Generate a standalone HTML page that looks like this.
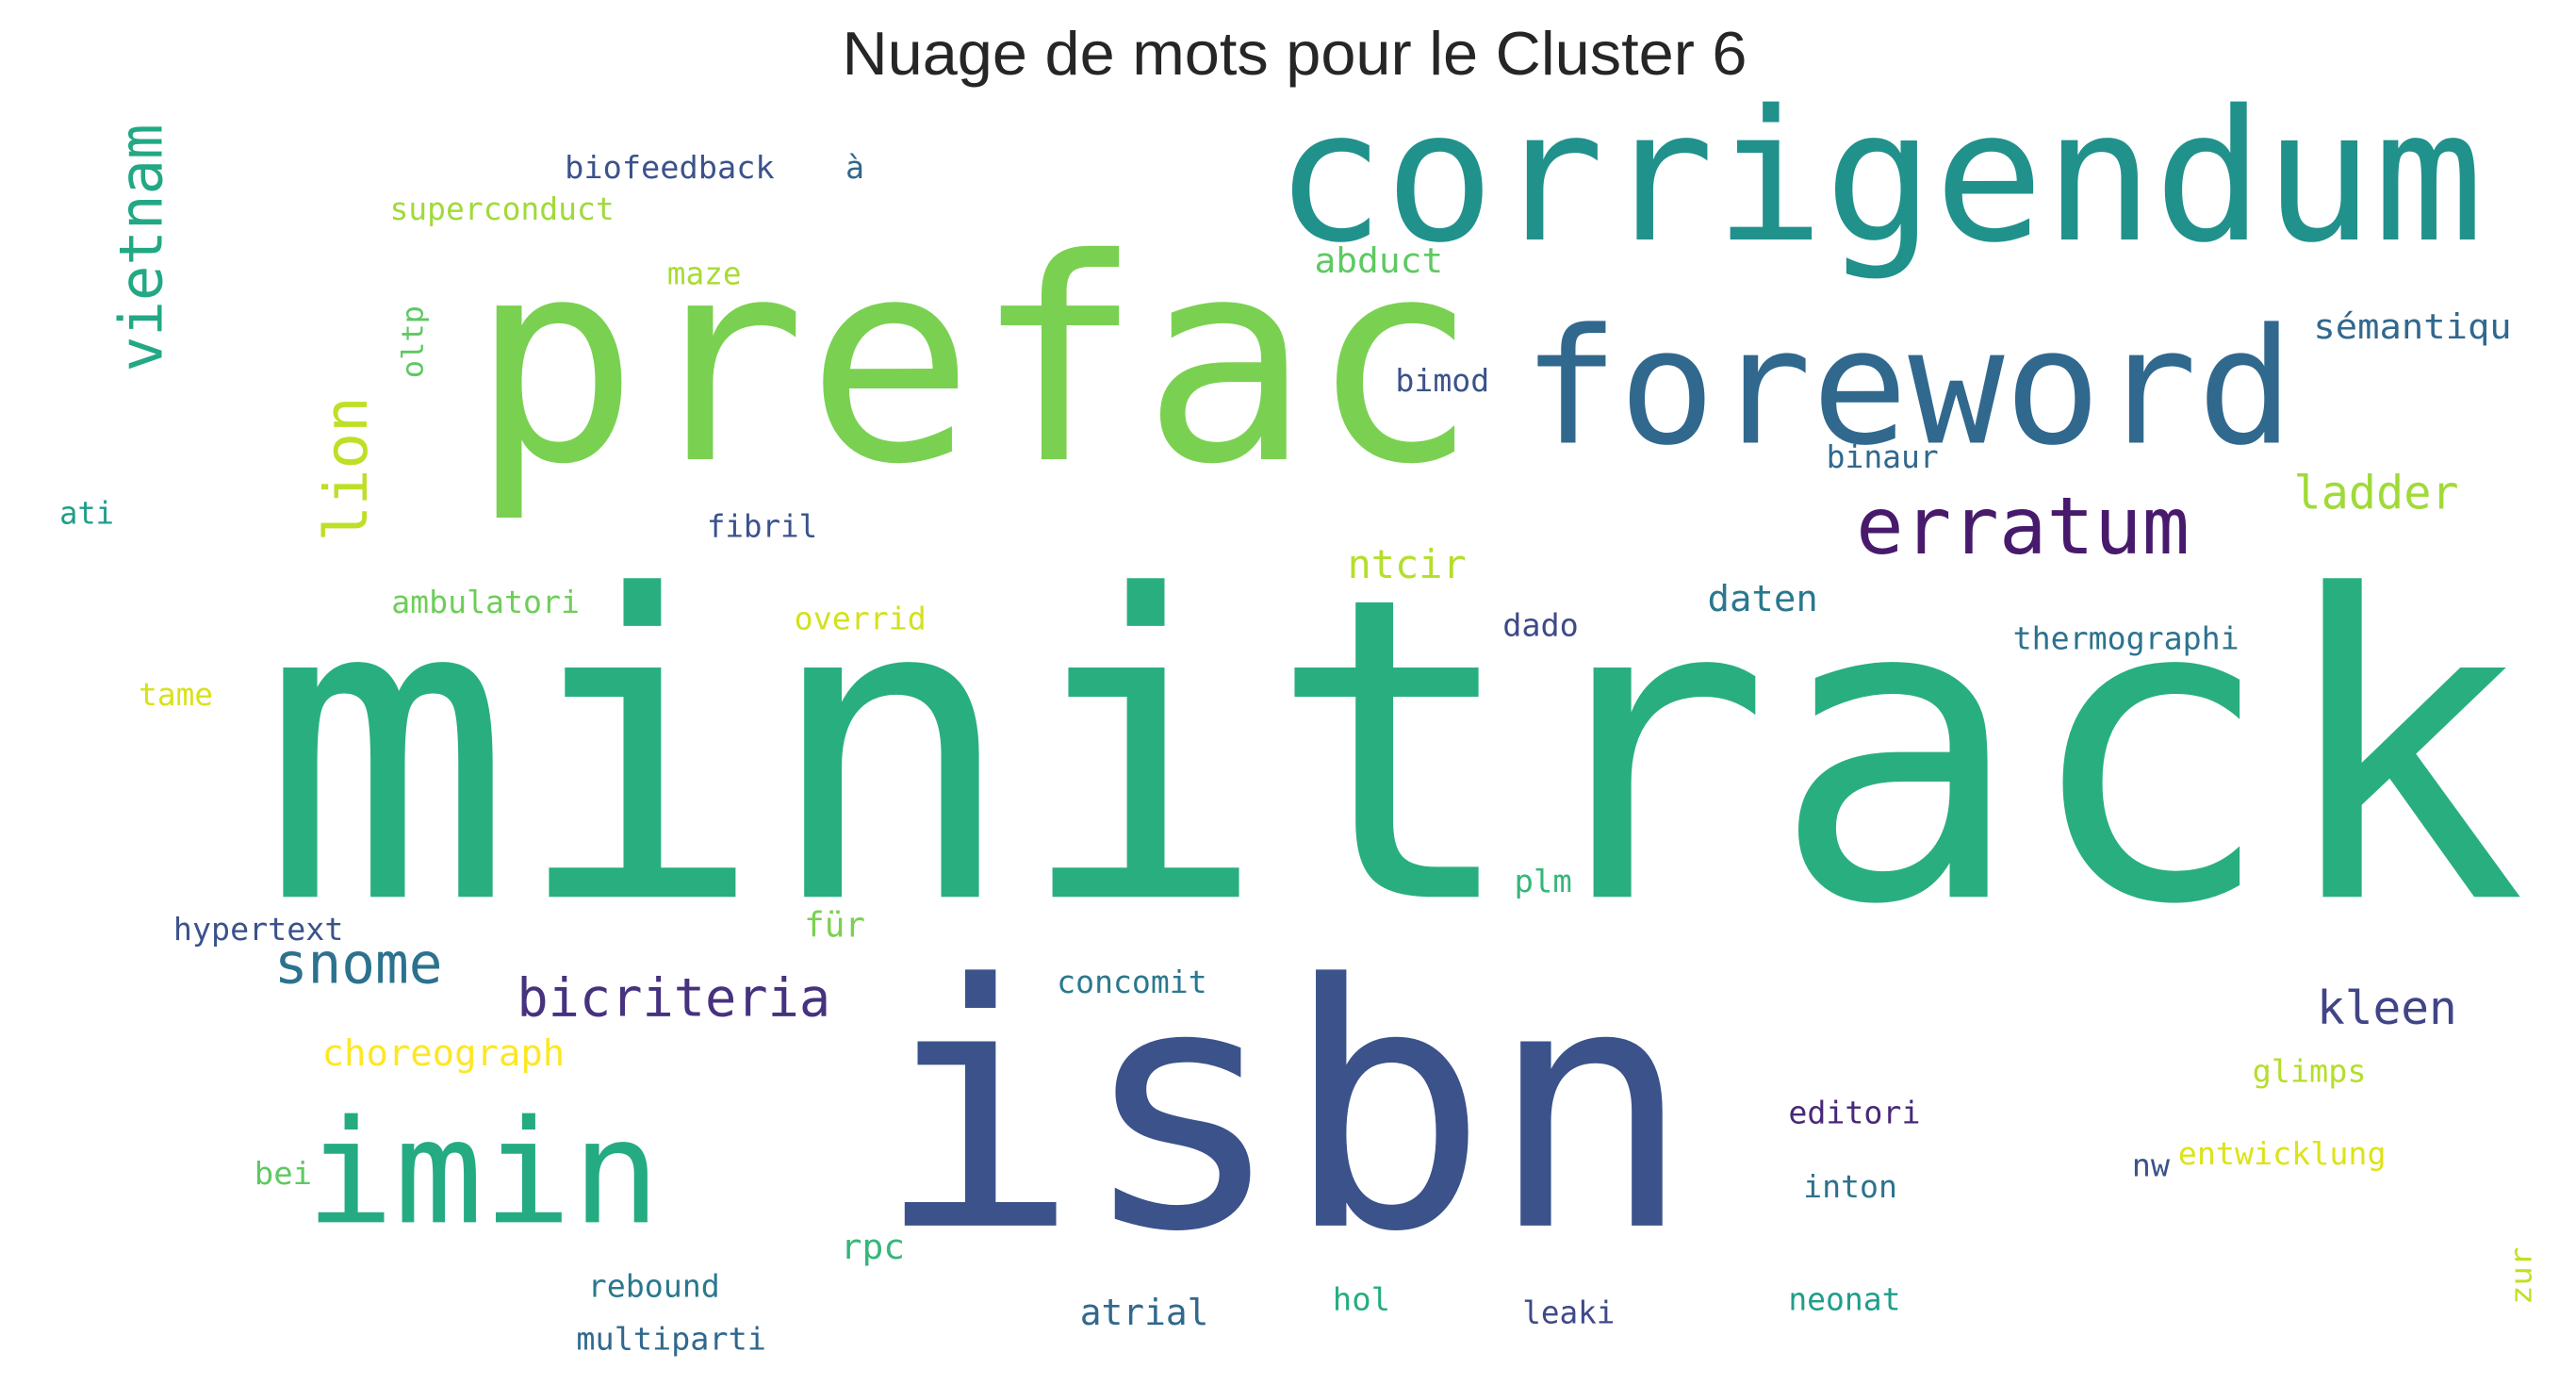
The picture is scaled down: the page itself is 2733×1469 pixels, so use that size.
<!DOCTYPE html>
<html><head><meta charset="utf-8"><style>
html,body{margin:0;padding:0;background:#fff;width:2733px;height:1469px;overflow:hidden}
svg text.w{font-family:"DejaVu Sans Mono","Liberation Mono",monospace}
</style></head><body>
<svg width="2733" height="1469" viewBox="0 0 1560 838.5" xmlns="http://www.w3.org/2000/svg">
<rect width="1560" height="838.5" fill="#fff"/>
<text x="784" y="45" text-anchor="middle" font-family="Liberation Sans, sans-serif" font-size="37" fill="#262626" textLength="548" lengthAdjust="spacingAndGlyphs">Nuage de mots pour le Cluster 6</text>
<g>
<text class="w" x="158" y="543" font-size="254" fill="#29af7f" textLength="1372" lengthAdjust="spacingAndGlyphs">minitrack</text>
<text class="w" x="530" y="742" font-size="204" fill="#3b528b" textLength="495" lengthAdjust="spacingAndGlyphs">isbn</text>
<text class="w" x="285" y="278" font-size="170" fill="#7ad151" textLength="610" lengthAdjust="spacingAndGlyphs">prefac</text>
<text class="w" x="772" y="145" font-size="110" fill="#21918c" textLength="732" lengthAdjust="spacingAndGlyphs">corrigendum</text>
<text class="w" x="922" y="268" font-size="97" fill="#31688e" textLength="467" lengthAdjust="spacingAndGlyphs">foreword</text>
<text class="w" x="1124" y="335" font-size="48" fill="#481a6c" textLength="202" lengthAdjust="spacingAndGlyphs">erratum</text>
<text class="w" x="185" y="740" font-size="87" fill="#25ab82" textLength="215" lengthAdjust="spacingAndGlyphs">imin</text>
<text class="w" transform="translate(98,225) rotate(-90)" font-size="36" fill="#22a884" textLength="150" lengthAdjust="spacingAndGlyphs">vietnam</text>
<text class="w" transform="translate(222,328) rotate(-90)" font-size="36" fill="#bddf26" textLength="88" lengthAdjust="spacingAndGlyphs">lion</text>
<text class="w" transform="translate(256,229) rotate(-90)" font-size="18" fill="#5ec962" textLength="44" lengthAdjust="spacingAndGlyphs">oltp</text>
<text class="w" transform="translate(1533,790) rotate(-90)" font-size="18" fill="#c2df23" textLength="35" lengthAdjust="spacingAndGlyphs">zur</text>
<text class="w" x="166" y="595" font-size="34" fill="#2c728e" textLength="102" lengthAdjust="spacingAndGlyphs">snome</text>
<text class="w" x="313" y="615" font-size="32" fill="#46327e" textLength="190" lengthAdjust="spacingAndGlyphs">bicriteria</text>
<text class="w" x="195" y="645" font-size="22" fill="#fde725" textLength="147" lengthAdjust="spacingAndGlyphs">choreograph</text>
<text class="w" x="816" y="350" font-size="24" fill="#b5de2b" textLength="72" lengthAdjust="spacingAndGlyphs">ntcir</text>
<text class="w" x="1389" y="308" font-size="28" fill="#a0da39" textLength="100" lengthAdjust="spacingAndGlyphs">ladder</text>
<text class="w" x="1403" y="620" font-size="28" fill="#414487" textLength="85" lengthAdjust="spacingAndGlyphs">kleen</text>
<text class="w" x="1034" y="370" font-size="22" fill="#2a788e" textLength="67" lengthAdjust="spacingAndGlyphs">daten</text>
<text class="w" x="1401" y="205" font-size="21" fill="#31688e" textLength="120" lengthAdjust="spacingAndGlyphs">sémantiqu</text>
<text class="w" x="796" y="165" font-size="21" fill="#5ec962" textLength="78" lengthAdjust="spacingAndGlyphs">abduct</text>
<text class="w" x="342" y="108" font-size="19" fill="#3b528b" textLength="127" lengthAdjust="spacingAndGlyphs">biofeedback</text>
<text class="w" x="512" y="108" font-size="19" fill="#31688e">à</text>
<text class="w" x="236" y="133" font-size="19" fill="#a0da39" textLength="136" lengthAdjust="spacingAndGlyphs">superconduct</text>
<text class="w" x="404" y="172" font-size="19" fill="#a8db34" textLength="45" lengthAdjust="spacingAndGlyphs">maze</text>
<text class="w" x="845" y="237" font-size="19" fill="#3b528b" textLength="57" lengthAdjust="spacingAndGlyphs">bimod</text>
<text class="w" x="1106" y="283" font-size="19" fill="#31688e" textLength="68" lengthAdjust="spacingAndGlyphs">binaur</text>
<text class="w" x="36" y="317" font-size="19" fill="#1f9e89" textLength="33" lengthAdjust="spacingAndGlyphs">ati</text>
<text class="w" x="428" y="325" font-size="19" fill="#3b528b" textLength="67" lengthAdjust="spacingAndGlyphs">fibril</text>
<text class="w" x="237" y="371" font-size="19" fill="#6ece58" textLength="114" lengthAdjust="spacingAndGlyphs">ambulatori</text>
<text class="w" x="481" y="381" font-size="19" fill="#d2e21b" textLength="80" lengthAdjust="spacingAndGlyphs">overrid</text>
<text class="w" x="910" y="385" font-size="19" fill="#3e4989" textLength="46" lengthAdjust="spacingAndGlyphs">dado</text>
<text class="w" x="1219" y="393" font-size="19" fill="#2c728e" textLength="137" lengthAdjust="spacingAndGlyphs">thermographi</text>
<text class="w" x="84" y="427" font-size="19" fill="#d8e219" textLength="45" lengthAdjust="spacingAndGlyphs">tame</text>
<text class="w" x="917" y="540" font-size="19" fill="#35b779" textLength="35" lengthAdjust="spacingAndGlyphs">plm</text>
<text class="w" x="105" y="569" font-size="19" fill="#3b528b" textLength="103" lengthAdjust="spacingAndGlyphs">hypertext</text>
<text class="w" x="487" y="567" font-size="21" fill="#7ad151" textLength="37" lengthAdjust="spacingAndGlyphs">für</text>
<text class="w" x="640" y="601" font-size="19" fill="#2a788e" textLength="91" lengthAdjust="spacingAndGlyphs">concomit</text>
<text class="w" x="1364" y="655" font-size="19" fill="#b5de2b" textLength="69" lengthAdjust="spacingAndGlyphs">glimps</text>
<text class="w" x="1083" y="680" font-size="19" fill="#482878" textLength="80" lengthAdjust="spacingAndGlyphs">editori</text>
<text class="w" x="154" y="717" font-size="19" fill="#5ec962" textLength="35" lengthAdjust="spacingAndGlyphs">bei</text>
<text class="w" x="1291" y="712" font-size="19" fill="#3b528b" textLength="23" lengthAdjust="spacingAndGlyphs">nw</text>
<text class="w" x="1319" y="705" font-size="19" fill="#dde318" textLength="126" lengthAdjust="spacingAndGlyphs">entwicklung</text>
<text class="w" x="1092" y="725" font-size="19" fill="#2c728e" textLength="57" lengthAdjust="spacingAndGlyphs">inton</text>
<text class="w" x="509" y="762" font-size="21" fill="#35b779" textLength="39" lengthAdjust="spacingAndGlyphs">rpc</text>
<text class="w" x="356" y="785" font-size="19" fill="#2a788e" textLength="80" lengthAdjust="spacingAndGlyphs">rebound</text>
<text class="w" x="807" y="793" font-size="19" fill="#26ad81" textLength="35" lengthAdjust="spacingAndGlyphs">hol</text>
<text class="w" x="654" y="802" font-size="22" fill="#31688e" textLength="78" lengthAdjust="spacingAndGlyphs">atrial</text>
<text class="w" x="922" y="801" font-size="19" fill="#3e4989" textLength="56" lengthAdjust="spacingAndGlyphs">leaki</text>
<text class="w" x="1083" y="793" font-size="19" fill="#1f9e89" textLength="68" lengthAdjust="spacingAndGlyphs">neonat</text>
<text class="w" x="349" y="817" font-size="19" fill="#31688e" textLength="115" lengthAdjust="spacingAndGlyphs">multiparti</text>
</g>
</svg>
</body></html>
